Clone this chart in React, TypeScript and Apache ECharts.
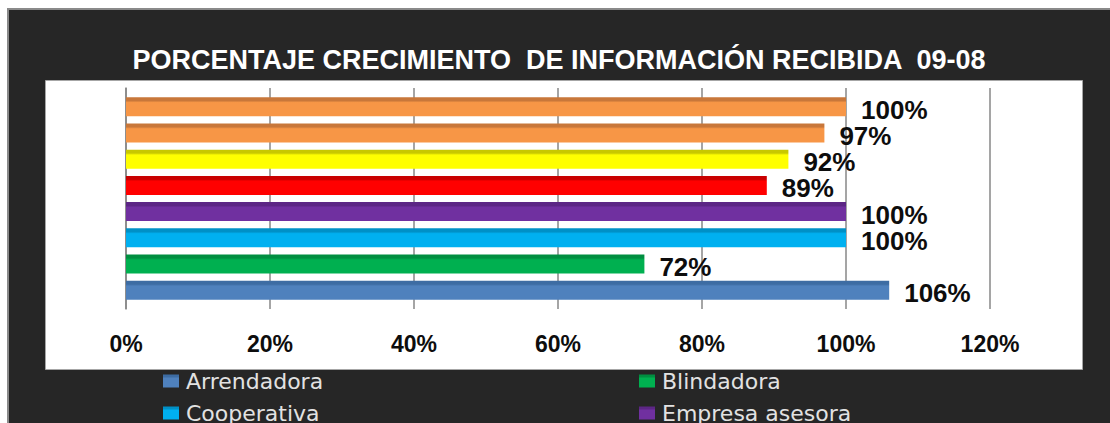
import React, { useEffect, useRef } from "react";
import * as echarts from "echarts";

const TITLE = "PORCENTAJE CRECIMIENTO  DE INFORMACIÓN RECIBIDA  09-08";

// Series listed from the top bar to the bottom bar
const seriesNames = [
  "Serie 8",
  "Serie 7",
  "Serie 6",
  "Serie 5",
  "Empresa asesora",
  "Cooperativa",
  "Blindadora",
  "Arrendadora",
];
const seriesValues = [1.0, 0.97, 0.92, 0.89, 1.0, 1.0, 0.72, 1.06];
const seriesColors = ["#F79646", "#F79646", "#FFFF00", "#FF0000", "#7030A0", "#00B0F0", "#00B050", "#4F81BD"];
const edgeColors = ["#C8773A", "#C8773A", "#C8C800", "#C80000", "#5C2685", "#0090C6", "#008E40", "#3D6CA3"];

// Legend entries visible in the reference, in reading order (2 columns)
const legendItems = ["Arrendadora", "Blindadora", "Cooperativa", "Empresa asesora"];

const xMin = 0;
const xMax = 1.2;
const xInterval = 0.2;
const categories = [""];

const pct = (v: number) => Math.round(v * 100) + "%";

export default function App() {
  const ref = useRef<HTMLDivElement>(null);

  useEffect(() => {
    if (!ref.current) return;
    const chart = echarts.init(ref.current, undefined, { renderer: "svg" });

    const series = seriesNames.map((name, i) => ({
      name,
      type: "bar",
      data: [seriesValues[i]],
      barWidth: 19,
      barGap: "38%",
      itemStyle: {
        color: new echarts.graphic.LinearGradient(0, 0, 0, 1, [
          { offset: 0, color: edgeColors[i] },
          { offset: 0.18, color: edgeColors[i] },
          { offset: 0.28, color: seriesColors[i] },
          { offset: 1, color: seriesColors[i] },
        ]),
      },
      label: {
        show: true,
        position: "right",
        distance: 15,
        offset: [0, 3],
        formatter: (p: any) => pct(p.value),
        fontFamily: "Liberation Sans",
        fontWeight: "bold",
        fontSize: 26,
        color: "#0d0d0d",
      },
    }));

    const legends = legendItems.map((name, i) => ({
      orient: "vertical",
      left: i % 2 === 0 ? 163 : 639,
      top: i < 2 ? 370 : 402,
      padding: 0,
      itemWidth: 16,
      itemHeight: 13,
      icon: "rect",
      data: [name],
      textStyle: {
        fontFamily: "DejaVu Sans",
        fontSize: 22,
        lineHeight: 22,
        color: "#e2e2e2",
        padding: [0, 0, 0, 2],
      },
    }));

    chart.setOption({
      animation: false,
      backgroundColor: "#ffffff",
      title: {
        text: TITLE,
        left: 559,
        top: 46,
        textAlign: "center",
        padding: 0,
        textStyle: {
          fontFamily: "Liberation Sans",
          fontWeight: "bold",
          fontSize: 27,
          lineHeight: 27,
          color: "#ffffff",
        },
      },
      graphic: {
        elements: [
          {
            type: "rect",
            z: -10,
            silent: true,
            shape: { x: 8, y: 9, width: 1110, height: 420 },
            style: { fill: "#262626", stroke: "#8a8a8a", lineWidth: 2 },
          },
          {
            type: "rect",
            z: -9,
            silent: true,
            shape: { x: 45.5, y: 80.5, width: 1037, height: 289 },
            style: { fill: "#ffffff", stroke: "#a6a6a6", lineWidth: 1 },
          },
        ],
      },
      legend: legends,
      grid: { left: 126, top: 88, width: 864, height: 221 },
      xAxis: {
        type: "value",
        min: xMin,
        max: xMax,
        interval: xInterval,
        axisLine: { show: false },
        axisTick: { show: false },
        splitLine: { show: true, lineStyle: { color: "#878787", width: 1.5 } },
        axisLabel: {
          margin: 23,
          formatter: (v: number) => pct(v),
          fontFamily: "Liberation Sans",
          fontWeight: "bold",
          fontSize: 23,
          color: "#0d0d0d",
        },
      },
      yAxis: {
        type: "category",
        data: categories,
        axisLine: { show: true, lineStyle: { color: "#878787", width: 1.5 } },
        axisTick: { show: false },
        axisLabel: { show: false },
      },
      series,
    });

    return () => chart.dispose();
  }, []);

  return (
    <div
      ref={ref}
      style={{ position: "absolute", left: 0, top: 0, width: 1110, height: 423 }}
    />
  );
}
